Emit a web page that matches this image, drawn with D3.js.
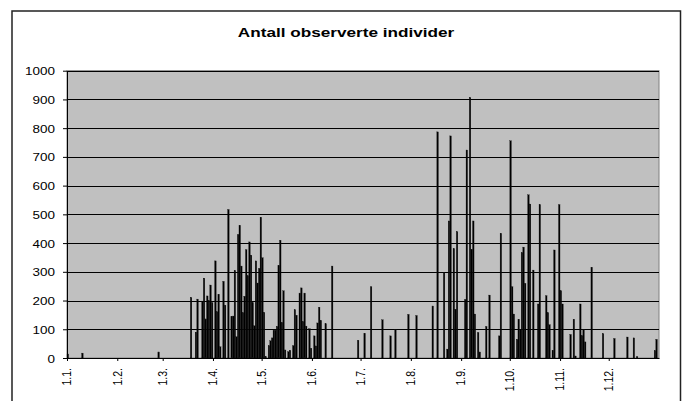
<!DOCTYPE html>
<html>
<head>
<meta charset="utf-8">
<script src="https://cdn.jsdelivr.net/npm/d3@7"></script>
<style>
body { margin: 0; background: #fff; }
svg { display: block; font-family: Arial, "Liberation Sans", sans-serif; }
</style>
</head>
<body>
<div id="chart"></div>
<script>
// daily counts, one year (day.month)
var year = 2007;

var obsDays = [
  "1.1", "10.1", "26.2",
  "18.3", "21.3", "22.3", "25.3", "26.3", "27.3", "28.3", "29.3", "30.3", "31.3",
  "2.4", "3.4", "4.4", "5.4", "7.4", "8.4", "10.4", "12.4", "13.4", "14.4", "15.4",
  "16.4", "17.4", "18.4", "19.4", "20.4", "21.4", "22.4", "23.4", "24.4", "25.4",
  "26.4", "27.4", "28.4", "29.4", "30.4",
  "1.5", "2.5", "3.5", "5.5", "6.5", "7.5", "8.5", "9.5", "10.5", "11.5", "12.5",
  "13.5", "14.5", "15.5", "17.5", "18.5", "20.5", "21.5", "22.5", "24.5", "25.5",
  "26.5", "27.5", "28.5", "30.5", "31.5",
  "2.6", "3.6", "4.6", "5.6", "6.6", "9.6", "13.6", "29.6",
  "3.7", "7.7", "14.7", "19.7", "22.7", "30.7",
  "4.8", "14.8", "17.8", "21.8", "23.8", "24.8", "25.8", "27.8", "28.8", "29.8",
  "3.9", "4.9", "6.9", "7.9", "8.9", "9.9", "11.9", "12.9", "16.9", "18.9", "24.9", "25.9",
  "1.10", "2.10", "3.10", "5.10", "6.10", "7.10", "8.10", "9.10", "10.10", "12.10",
  "13.10", "15.10", "18.10", "19.10", "23.10", "24.10", "25.10", "27.10", "28.10", "31.10",
  "1.11", "2.11", "7.11", "9.11", "10.11", "13.11", "14.11", "15.11", "16.11", "20.11", "27.11",
  "4.12", "12.12", "16.12", "18.12", "29.12", "30.12"
];

var counts = [
  14, 17, 21,
  211, 90, 205, 198, 278, 136, 216, 200, 254, 193,
  338, 161, 222, 39, 267, 184, 517, 144, 146, 305, 74,
  430, 462, 320, 158, 215, 377, 286, 404, 358, 193,
  112, 338, 261, 312, 490,
  349, 159, 5, 43, 60, 70, 96, 97, 110, 322, 410,
  124, 234, 28, 22, 27, 43, 168, 149, 226, 244,
  127, 226, 111, 102, 34,
  77, 42, 122, 177, 131, 119, 320, 62,
  86, 248, 133, 77, 100, 152,
  148, 181, 787, 297, 31, 477, 773, 381, 170, 440,
  204, 724, 907, 378, 477, 153, 89, 21, 110, 219, 77, 434,
  756, 248, 153, 65, 135, 100, 367, 386, 260, 568,
  536, 306, 188, 534, 217, 158, 116, 27, 376, 534,
  234, 188, 82, 135, 7, 188, 78, 100, 56, 316, 85,
  68, 73, 70, 5, 26, 65
];

var monthLabels = ["1.1.", "1.2.", "1.3.", "1.4.", "1.5.", "1.6.",
                   "1.7.", "1.8.", "1.9.", "1.10.", "1.11.", "1.12."];
var yTicks = [0, 100, 200, 300, 400, 500, 600, 700, 800, 900, 1000];

var W = 687, H = 401;
var plot = {left: 67, right: 659, top: 70.7, bottom: 358};

var parseDay = d3.timeParse("%d.%m.%Y");
var data = obsDays.map(function(s, i) {
  return {date: parseDay(s + "." + year), value: counts[i]};
});
var monthStarts = monthLabels.map(function(s) { return parseDay(s + year); });

var x = d3.scaleTime()
  .domain([new Date(year, 0, 1), new Date(year + 1, 0, 1)])
  .range([plot.left, plot.right]);

var y = d3.scaleLinear()
  .domain([0, 1000])
  .range([plot.bottom, plot.top]);

var svg = d3.select("#chart").append("svg")
  .attr("width", W)
  .attr("height", H);

// chart frame
svg.append("rect")
  .attr("x", 12).attr("y", 11)
  .attr("width", 668.5).attr("height", 400)
  .attr("fill", "#fff")
  .attr("stroke", "#222")
  .attr("stroke-width", 1.5);

// title
svg.append("text")
  .attr("transform", "translate(346,36.6) scale(1.32,1)")
  .attr("text-anchor", "middle")
  .style("font-size", "13px")
  .style("font-weight", "bold")
  .text("Antall observerte individer");

// plot area
svg.append("rect")
  .attr("x", plot.left).attr("y", plot.top)
  .attr("width", plot.right - plot.left)
  .attr("height", plot.bottom - plot.top)
  .attr("fill", "#c0c0c0")
  .attr("stroke", "#808080")
  .attr("stroke-width", 1);

// gridlines
svg.append("g")
  .selectAll("line")
  .data(yTicks.slice(1))
  .enter().append("line")
  .attr("x1", plot.left).attr("x2", plot.right)
  .attr("y1", function(d) { return Math.round(y(d)) + 0.5; })
  .attr("y2", function(d) { return Math.round(y(d)) + 0.5; })
  .attr("stroke", "#000")
  .attr("stroke-width", 1);

// bars
svg.append("g")
  .selectAll("rect")
  .data(data)
  .enter().append("rect")
  .attr("x", function(d) { return x(d.date) + 0.05; })
  .attr("width", function(d) { return x(d3.timeDay.offset(d.date, 1)) - x(d.date) - 0.1; })
  .attr("y", function(d) { return y(d.value); })
  .attr("height", function(d) { return y(0) - y(d.value); })
  .attr("fill", "#000")
  .attr("stroke", "#111")
  .attr("stroke-width", 0.3);

// y axis
var yAxis = svg.append("g")
  .attr("transform", "translate(" + plot.left + ",0)")
  .call(d3.axisLeft(y).tickValues(yTicks).tickSize(4).tickSizeOuter(0)
    .tickFormat(function(d) { return d; }));
yAxis.select(".domain").attr("stroke", "#000");
yAxis.selectAll(".tick line").attr("stroke", "#000");
yAxis.selectAll(".tick text")
  .attr("x", null).attr("dy", null)
  .attr("transform", "translate(-12,4.1) scale(1.16,1)")
  .attr("text-anchor", "end")
  .attr("fill", "#000")
  .style("font-size", "11.6px")
  .style("font-family", "Arial, 'Liberation Sans', sans-serif");

// x axis
var xAxis = svg.append("g")
  .attr("transform", "translate(0," + plot.bottom + ")")
  .call(d3.axisBottom(x).tickValues(monthStarts).tickSize(3).tickSizeOuter(0)
    .tickFormat(function(d, i) { return monthLabels[i]; }));
xAxis.select(".domain").attr("stroke", "#000");
xAxis.selectAll(".tick line").attr("stroke", "#000");
xAxis.selectAll(".tick text")
  .attr("y", null).attr("dy", null)
  .attr("transform", "translate(3.8,10) scale(1.2,1) rotate(-90)")
  .attr("text-anchor", "end")
  .attr("fill", "#000")
  .style("font-size", "10.5px")
  .style("font-family", "Arial, 'Liberation Sans', sans-serif");
</script>
</body>
</html>
